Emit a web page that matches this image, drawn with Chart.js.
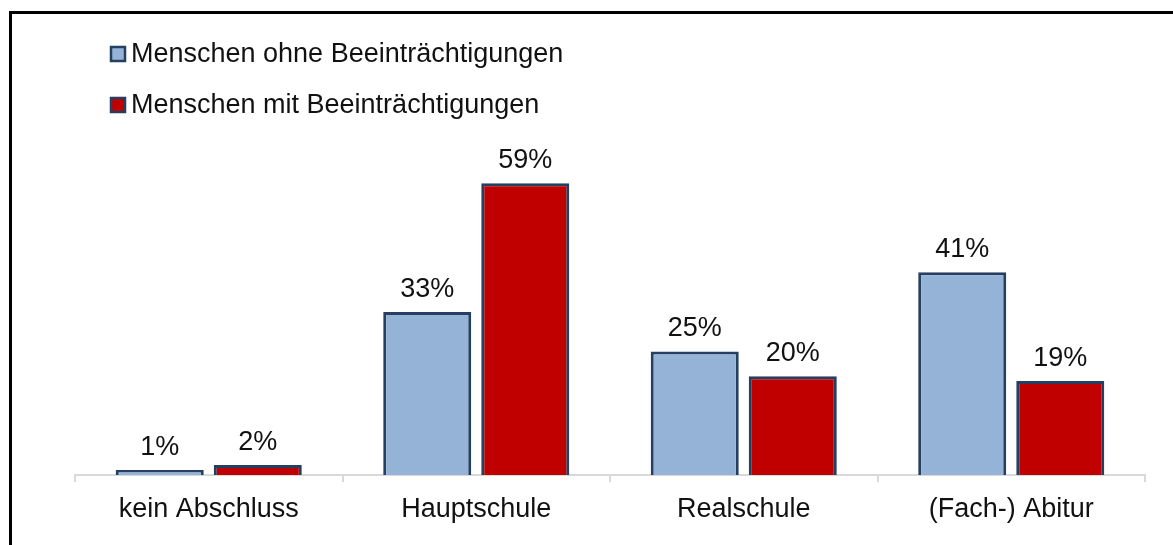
<!DOCTYPE html>
<html>
<head>
<meta charset="utf-8">
<script src="https://cdn.jsdelivr.net/npm/chart.js@4.4.0/dist/chart.umd.min.js"></script>
<style>
  html, body { margin: 0; padding: 0; background: #fff; overflow: hidden; }
  #wrap { position: relative; width: 1173px; height: 545px; }
  #frame {
    position: absolute; left: 9px; top: 11px; width: 1300px; height: 700px;
    border-top: 3px solid #000; border-left: 3px solid #000; pointer-events: none;
  }
  canvas { position: absolute; left: 0; top: 0; }
</style>
</head>
<body>
<div id="wrap">
  <canvas id="chart" width="1173" height="545"></canvas>
  <div id="frame"></div>
</div>
<script>
const categories = ['kein Abschluss', 'Hauptschule', 'Realschule', '(Fach-) Abitur'];
const seriesNames = ['Menschen ohne Beeinträchtigungen', 'Menschen mit Beeinträchtigungen'];
const ohneValues = [1, 33, 25, 41];
const mitValues = [2, 59, 20, 19];
const fillColors = ['#95B3D7', '#C00000'];
const edgeColor = '#243F60';
const FONT = '"Liberation Sans", Arial, sans-serif';

// Werte über den Balken
const valueLabels = {
  id: 'valueLabels',
  afterDatasetsDraw(chart) {
    const ctx = chart.ctx;
    ctx.save();
    ctx.font = '27px ' + FONT;
    ctx.fillStyle = '#111';
    ctx.textAlign = 'center';
    ctx.textBaseline = 'alphabetic';
    chart.data.datasets.forEach((ds, i) => {
      chart.getDatasetMeta(i).data.forEach((bar, j) => {
        ctx.fillText(ds.data[j] + '%', bar.x, bar.y - 15);
      });
    });
    ctx.restore();
  }
};

// Legende oben links, untereinander
const stackedLegend = {
  id: 'stackedLegend',
  afterDraw(chart) {
    const ctx = chart.ctx;
    ctx.save();
    ctx.font = '27px ' + FONT;
    ctx.textAlign = 'left';
    ctx.textBaseline = 'alphabetic';
    chart.data.datasets.forEach((ds, i) => {
      const base = 62 + i * 51;
      ctx.fillStyle = ds.backgroundColor;
      ctx.fillRect(111, base - 15, 14, 14);
      ctx.strokeStyle = edgeColor;
      ctx.lineWidth = 2.5;
      ctx.strokeRect(111, base - 15, 14, 14);
      ctx.fillStyle = '#111';
      ctx.fillText(ds.label, 131, base);
    });
    ctx.restore();
  }
};

new Chart(document.getElementById('chart'), {
  type: 'bar',
  data: {
    labels: categories,
    datasets: [
      { label: seriesNames[0], data: ohneValues, backgroundColor: fillColors[0] },
      { label: seriesNames[1], data: mitValues, backgroundColor: fillColors[1] }
    ]
  },
  options: {
    responsive: false,
    animation: false,
    events: [],
    layout: { padding: { left: 75, right: 28, top: 129, bottom: 0 } },
    datasets: {
      bar: {
        borderColor: edgeColor,
        borderWidth: 3,
        categoryPercentage: 0.733,
        barPercentage: 0.898
      }
    },
    plugins: {
      legend: { display: false },
      tooltip: { enabled: false }
    },
    scales: {
      x: {
        afterFit: s => { s.height = 70; },
        grid: {
          drawOnChartArea: false,
          drawTicks: true,
          tickLength: 7,
          color: '#D9D9D9',
          lineWidth: 2
        },
        border: { display: true, color: '#D9D9D9', width: 2 },
        ticks: {
          color: '#111',
          padding: 11,
          font: { family: FONT, size: 27 }
        }
      },
      y: {
        display: false,
        min: 0,
        max: 70
      }
    }
  },
  plugins: [valueLabels, stackedLegend]
});
</script>
</body>
</html>
